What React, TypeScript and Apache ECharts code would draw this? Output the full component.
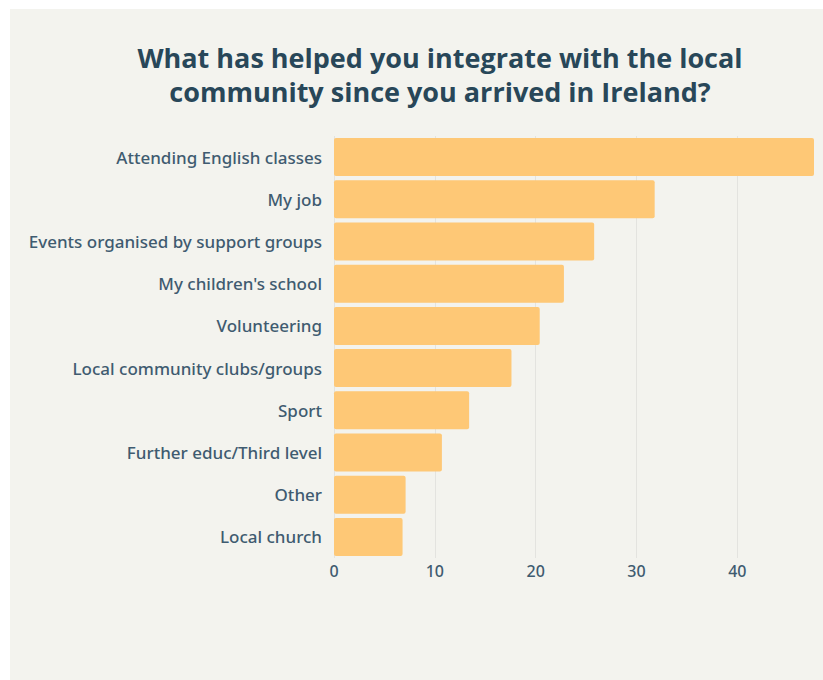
import React, { useEffect, useRef } from "react";
import * as echarts from "echarts";

const categories = [
  "Attending English classes",
  "My job",
  "Events organised by support groups",
  "My children's school",
  "Volunteering",
  "Local community clubs/groups",
  "Sport",
  "Further educ/Third level",
  "Other",
  "Local church",
];
const values = [47.6, 31.8, 25.8, 22.8, 20.4, 17.6, 13.4, 10.7, 7.1, 6.8];
const titleLines = [
  "What has helped you integrate with the local",
  "community since you arrived in Ireland?",
];

export default function App() {
  const ref = useRef<HTMLDivElement>(null);
  useEffect(() => {
    document.body.style.margin = "0";
    const chart = echarts.init(ref.current!, null, { renderer: "svg" });
    chart.setOption({
      animation: false,
      backgroundColor: "#ffffff",
      graphic: [
        {
          type: "rect",
          z: -10,
          shape: { x: 10, y: 9, width: 813, height: 671 },
          style: { fill: "#f3f3ee" },
        },
        ...titleLines.map((line, i) => ({
          type: "text",
          x: 440,
          y: 57 + i * 34,
          style: {
            text: line,
            font: "bold 27px 'Open Sans'",
            fill: "#284759",
            align: "center",
            verticalAlign: "middle",
          },
        })),
      ],
      grid: { left: 334, right: 9, top: 136, bottom: 122, containLabel: false },
      xAxis: {
        type: "value",
        min: 0,
        max: 47.6,
        interval: 10,
        axisLine: { show: false },
        axisTick: { show: false },
        splitLine: { show: true, showMaxLine: false, lineStyle: { color: "#e3e3df", width: 1 } },
        axisLabel: {
          showMaxLabel: false,
          margin: 5,
          color: "#3f5b70",
          fontFamily: "Noto Sans",
          fontSize: 16,
          fontWeight: 500,
        },
      },
      yAxis: {
        type: "category",
        inverse: true,
        data: categories,
        axisLine: { show: false },
        axisTick: { show: false },
        axisLabel: {
          margin: 12,
          color: "#3f5b70",
          fontFamily: "Noto Sans",
          fontSize: 17,
          fontWeight: 500,
        },
      },
      series: [
        {
          type: "bar",
          data: values,
          barCategoryGap: "10%",
          itemStyle: { color: "#fec876", borderRadius: 2 },
        },
      ],
    });
    return () => chart.dispose();
  }, []);
  return (
    <div
      ref={ref}
      style={{ position: "fixed", left: 0, top: 0, width: 823, height: 680 }}
    />
  );
}
